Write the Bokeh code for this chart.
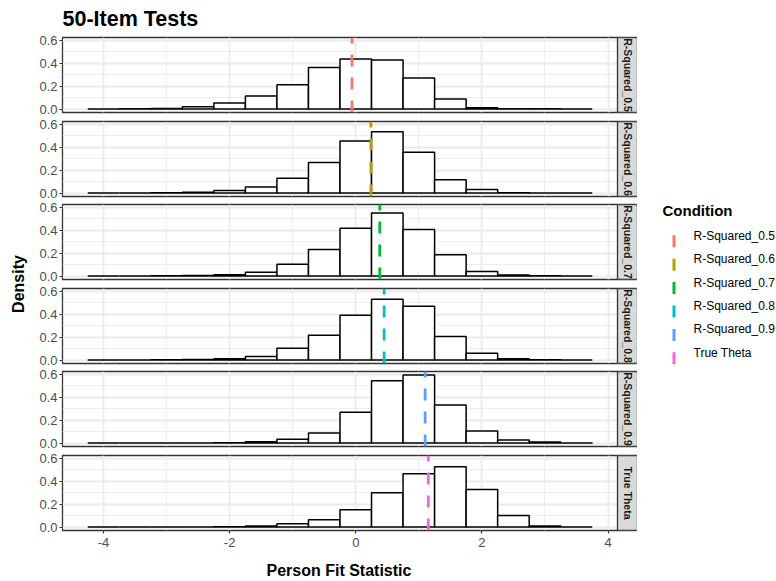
import math
from bokeh.plotting import figure
from bokeh.layouts import row, column
from bokeh.models import Range1d, FixedTicker, PrintfTickFormatter, Title, ColumnDataSource
from bokeh.core.properties import value
from bokeh.embed import file_html
from bokeh.resources import INLINE

FONT = "Liberation Sans"

# ---------------- data ----------------
title_text = "50-Item Tests"
x_label = "Person Fit Statistic"
y_label = "Density"
legend_title = "Condition"

conditions = ["R-Squared_0.5", "R-Squared_0.6", "R-Squared_0.7",
              "R-Squared_0.8", "R-Squared_0.9", "True Theta"]
colors = ["#F8766D", "#B79F00", "#00BA38", "#00BFC4", "#619CFF", "#F564E3"]

bin_centers = [-4.0, -3.5, -3.0, -2.5, -2.0, -1.5, -1.0, -0.5,
               0.0, 0.5, 1.0, 1.5, 2.0, 2.5, 3.0, 3.5]
bin_width = 0.5

density_r50 = [0.000, 0.004, 0.006, 0.020, 0.052, 0.115, 0.213, 0.362,
               0.437, 0.428, 0.270, 0.089, 0.011, 0.004, 0.002, 0.000]
density_r60 = [0.000, 0.000, 0.002, 0.008, 0.023, 0.054, 0.130, 0.266,
               0.453, 0.535, 0.356, 0.116, 0.031, 0.003, 0.001, 0.000]
density_r70 = [0.000, 0.000, 0.003, 0.006, 0.011, 0.034, 0.103, 0.231,
               0.417, 0.549, 0.406, 0.186, 0.040, 0.009, 0.003, 0.000]
density_r80 = [0.000, 0.000, 0.002, 0.006, 0.011, 0.031, 0.103, 0.217,
               0.391, 0.529, 0.469, 0.206, 0.060, 0.011, 0.003, 0.000]
density_r90 = [0.000, 0.000, 0.000, 0.001, 0.003, 0.011, 0.034, 0.089,
               0.269, 0.543, 0.594, 0.331, 0.106, 0.026, 0.009, 0.001]
density_true = [0.000, 0.000, 0.000, 0.001, 0.003, 0.009, 0.029, 0.063,
                0.151, 0.299, 0.464, 0.526, 0.327, 0.102, 0.009, 0.000]
densities = [density_r50, density_r60, density_r70, density_r80, density_r90, density_true]

condition_means = [-0.06, 0.24, 0.38, 0.45, 1.10, 1.15]

x_ticks = [-4, -2, 0, 2, 4]
x_tick_labels = ["-4", "-2", "0", "2", "4"]
x_minor = [-3, -1, 1, 3]
y_ticks = [0.0, 0.2, 0.4, 0.6]
y_tick_labels = ["0.0", "0.2", "0.4", "0.6"]
y_minor = [0.1, 0.3, 0.5]

# ---------------- layout constants ----------------
DENS_W = 28
LEFT = 34
PANEL_W = 555
STRIP_W = 20
FRAME_H = 75
TOP = 37
BOTTOM = 51
GAPS = [9, 8, 9, 8, 9]
TOTAL_W = 776
TOTAL_H = 581
LEGEND_W = TOTAL_W - DENS_W - LEFT - PANEL_W - STRIP_W

# scales (ggplot-like 5% expansion)
lefts = [c - bin_width / 2 for c in bin_centers]
rights = [c + bin_width / 2 for c in bin_centers]
x_span = max(rights) - min(lefts)
x_lo = min(lefts) - 0.05 * x_span
x_hi = max(rights) + 0.05 * x_span
x_strip_hi = x_hi + STRIP_W * (x_hi - x_lo) / PANEL_W
y_max = max(max(d) for d in densities)
y_lo = -0.05 * y_max
y_hi = y_max + 0.05 * y_max

GRID = "#EBEBEB"
BORDER = "#333333"
TICK_TXT = "#4D4D4D"

panel_figs = []
n = len(conditions)
for i, (cond, dens, col, mu) in enumerate(zip(conditions, densities, colors, condition_means)):
    top_b = TOP if i == 0 else GAPS[i - 1] - GAPS[i - 1] // 2
    bot_b = BOTTOM if i == n - 1 else GAPS[i] // 2
    p = figure(frame_width=PANEL_W + STRIP_W, frame_height=FRAME_H,
               x_range=Range1d(x_lo, x_strip_hi), y_range=Range1d(y_lo, y_hi),
               min_border_left=LEFT, min_border_right=0,
               min_border_top=top_b, min_border_bottom=bot_b,
               output_backend="svg", toolbar_location=None)
    p.background_fill_color = "white"
    p.border_fill_color = "white"
    p.outline_line_color = BORDER
    p.outline_line_width = 1.3

    # grids
    p.xgrid.ticker = FixedTicker(ticks=x_ticks, minor_ticks=x_minor)
    p.ygrid.ticker = FixedTicker(ticks=y_ticks, minor_ticks=y_minor)
    for g in (p.xgrid[0], p.ygrid[0]):
        g.grid_line_color = GRID
        g.grid_line_width = 1.8
        g.minor_grid_line_color = GRID
        g.minor_grid_line_width = 0.9

    # y axis
    ya = p.yaxis[0]
    ya.ticker = FixedTicker(ticks=y_ticks)
    ya.formatter = PrintfTickFormatter(format="%.1f")
    ya.major_label_overrides = dict(zip(y_ticks, y_tick_labels))
    ya.axis_line_color = None
    ya.major_tick_line_color = BORDER
    ya.major_tick_line_width = 1.2
    ya.major_tick_in = 0
    ya.major_tick_out = 3
    ya.minor_tick_line_color = None
    ya.major_label_standoff = 2
    ya.major_label_text_font = FONT
    ya.major_label_text_font_size = "13px"
    ya.major_label_text_color = TICK_TXT

    xa = p.xaxis[0]
    if i < n - 1:
        xa.visible = False
    else:
        xa.ticker = FixedTicker(ticks=x_ticks)
        xa.major_label_overrides = dict(zip(x_ticks, x_tick_labels))
        xa.axis_line_color = None
        xa.major_tick_line_color = BORDER
        xa.major_tick_line_width = 1.2
        xa.major_tick_in = 0
        xa.major_tick_out = 3
        xa.minor_tick_line_color = None
        xa.major_label_standoff = 4
        xa.major_label_text_font = FONT
        xa.major_label_text_font_size = "13px"
        xa.major_label_text_color = TICK_TXT
        xt = Title(text=x_label, align="left", offset=204, vertical_align="top",
                   standoff=24, text_font=FONT, text_font_size="16px",
                   text_font_style="bold", text_color="black")
        p.add_layout(xt, "below")

    if i == 0:
        p.title.text = title_text
        p.title.align = "left"
        p.title.vertical_align = "top"
        p.title.standoff = 10
        p.title.text_font = FONT
        p.title.text_font_size = "21.5px"
        p.title.text_font_style = "bold"
        p.title.text_color = "black"

    # histogram
    src = ColumnDataSource(dict(left=lefts, right=rights,
                                top=dens, bottom=[0.0] * len(dens)))
    p.quad(left="left", right="right", top="top", bottom="bottom", source=src,
           fill_color="white", line_color="black", line_width=1.5)

    # mean line
    p.segment(x0=[mu], y0=[y_lo], x1=[mu], y1=[y_hi], line_color=col,
              line_width=2.8, line_dash="12 11")

    # facet strip
    p.quad(left=[x_hi], right=[x_strip_hi], bottom=[y_lo], top=[y_hi],
           fill_color="#D9D9D9", line_color=BORDER, line_width=1.3)
    p.text(x=[(x_hi + x_strip_hi) / 2], y=[(y_lo + y_hi) / 2], text=[cond],
           angle=-math.pi / 2, text_align="center", text_baseline="middle",
           text_font=value(FONT), text_font_size="10.5px", text_font_style="bold",
           text_color="#1A1A1A")
    panel_figs.append(p)

# y axis title figure
dens_fig = figure(frame_width=DENS_W, frame_height=TOTAL_H,
                  x_range=Range1d(0, DENS_W), y_range=Range1d(TOTAL_H, 0),
                  min_border=0, x_axis_type=None, y_axis_type=None,
                  output_backend="svg", toolbar_location=None)
dens_fig.outline_line_color = None
dens_fig.grid.visible = False
dens_fig.text(x=[18], y=[TOP + (TOTAL_H - TOP - BOTTOM) / 2], text=[y_label],
              angle=math.pi / 2, text_align="center", text_baseline="middle",
              text_font=value(FONT), text_font_size="16px", text_font_style="bold",
              text_color="black")

# legend figure
leg = figure(frame_width=LEGEND_W, frame_height=TOTAL_H,
             x_range=Range1d(0, LEGEND_W), y_range=Range1d(TOTAL_H, 0),
             min_border=0, x_axis_type=None, y_axis_type=None,
             output_backend="svg", toolbar_location=None)
leg.outline_line_color = None
leg.grid.visible = False
LEG_X = 25
LEG_TITLE_Y = 210
LEG_Y0 = 235.3
LEG_STEP = 23.4
leg.text(x=[LEG_X], y=[LEG_TITLE_Y], text=[legend_title], text_align="left",
         text_baseline="middle", text_font=value(FONT), text_font_size="15px",
         text_font_style="bold", text_color="black")
item_y = [LEG_Y0 + k * LEG_STEP for k in range(n)]
leg.rect(x=[LEG_X + 11.5] * n, y=[yy + 5.5 for yy in item_y], width=3, height=12,
         fill_color=colors, line_color=None)
leg.text(x=[LEG_X + 31] * n, y=item_y, text=conditions, text_align="left",
         text_baseline="middle", text_font=value(FONT), text_font_size="12px",
         text_color="black")

layout = row(dens_fig, column(*panel_figs), leg)
open("out.html", "w").write(file_html(layout, INLINE))
